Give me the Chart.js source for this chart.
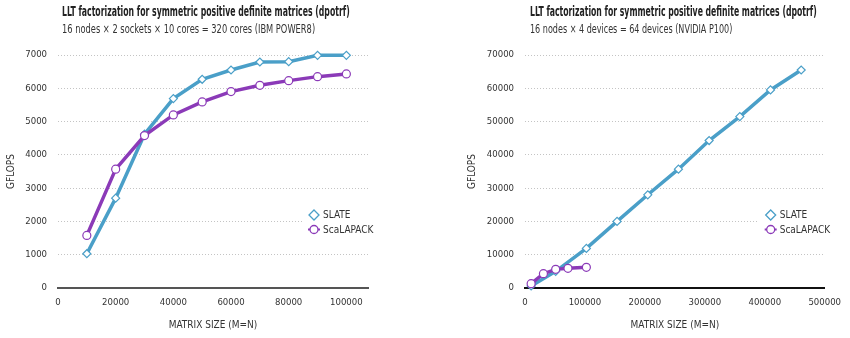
<!DOCTYPE html>
<html>
<head>
<meta charset="utf-8">
<script src="https://cdn.jsdelivr.net/npm/chart.js@4"></script>
<style>
  body { margin: 0; background: #fff; }
  #wrap { position: relative; width: 850px; height: 338px; overflow: hidden; }
  .box { position: absolute; top: 0; width: 425px; height: 338px; }
  canvas { position: absolute; left: 0; top: 0; }
  .ttl, .sub {
    position: absolute; white-space: nowrap; color: #222;
    font-family: "Liberation Sans Narrow", "DejaVu Sans Condensed", sans-serif;
    transform-origin: 0 0;
  }
  .ttl { font-weight: bold; font-size: 13.5px; top: 3px; }
  .sub { font-size: 12.5px; top: 21px; color: #333; }
</style>
</head>
<body>
<div id="wrap">
  <div class="box" style="left:0">
    <canvas id="c1" width="425" height="338"></canvas>
    <div class="ttl" data-w="288" style="left:62px">LLT factorization for symmetric positive definite matrices (dpotrf)</div>
    <div class="sub" data-w="253" style="left:62px">16 nodes × 2 sockets × 10 cores = 320 cores (IBM POWER8)</div>
  </div>
  <div class="box" style="left:425px">
    <canvas id="c2" width="425" height="338"></canvas>
    <div class="ttl" data-w="287" style="left:105px">LLT factorization for symmetric positive definite matrices (dpotrf)</div>
    <div class="sub" data-w="202" style="left:105px">16 nodes × 4 devices = 64 devices (NVIDIA P100)</div>
  </div>
</div>
<script>
// IBM POWER8 cluster
var sizesCpu = [10000, 20000, 30000, 40000, 50000, 60000, 70000, 80000, 90000, 100000];
var slateCpu = [1030, 2700, 4620, 5690, 6270, 6550, 6790, 6800, 6990, 6990];
var scalapackCpu = [1580, 3570, 4580, 5200, 5590, 5900, 6090, 6230, 6350, 6430];

// NVIDIA P100 cluster
var sizesGpuSlate = [10240, 51200, 102400, 153600, 204800, 256000, 307200, 358400, 409600, 460800];
var slateGpu = [600, 5000, 11900, 20000, 28000, 35700, 44300, 51500, 59500, 65500];
var sizesGpuScalapack = [10240, 30720, 51200, 71680, 102400];
var scalapackGpu = [1300, 4300, 5600, 5900, 6200];

var ticksCpuY = [0, 1000, 2000, 3000, 4000, 5000, 6000, 7000];
var ticksGpuY = [0, 10000, 20000, 30000, 40000, 50000, 60000, 70000];

var azul = '#4a9fc8';
var morado = '#8b3ab8';
var fuente = '"Liberation Sans Narrow", "DejaVu Sans Condensed", sans-serif';

Chart.defaults.font.family = fuente;
Chart.defaults.color = '#333';

// squeeze the titles to the condensed width of the original
document.querySelectorAll('.ttl, .sub').forEach(function (el) {
    var w = parseFloat(el.getAttribute('data-w'));
    el.style.transform = 'scaleX(' + (w / el.offsetWidth) + ')';
});

function puntos(xs, ys) {
    return xs.map(function (x, i) { return { x: x, y: ys[i] }; });
}

// legend drawn inside the plot, bottom right
var leyenda = {
    id: 'leyenda',
    afterDatasetsDraw: function (chart) {
        var ctx = chart.ctx;
        var a = chart.chartArea;
        ctx.save();
        ctx.fillStyle = '#fff';
        ctx.fillRect(a.right - 66, a.bottom - 84, 66, 34);
        ctx.font = '10px ' + fuente;
        ctx.textBaseline = 'middle';
        var filas = [
            { txt: 'SLATE', col: azul, y: a.bottom - 73, forma: 'diamante' },
            { txt: 'ScaLAPACK', col: morado, y: a.bottom - 58.5, forma: 'circulo' }
        ];
        filas.forEach(function (f) {
            var cx = a.right - 54;
            ctx.strokeStyle = f.col;
            ctx.lineWidth = 1.3;
            ctx.beginPath();
            if (f.forma === 'diamante') {
                ctx.moveTo(cx, f.y - 5);
                ctx.lineTo(cx + 5, f.y);
                ctx.lineTo(cx, f.y + 5);
                ctx.lineTo(cx - 5, f.y);
                ctx.closePath();
                ctx.stroke();
            } else {
                ctx.moveTo(cx - 6, f.y);
                ctx.lineTo(cx + 6, f.y);
                ctx.lineWidth = 2;
                ctx.stroke();
                ctx.beginPath();
                ctx.lineWidth = 1.3;
                ctx.fillStyle = '#fff';
                ctx.arc(cx, f.y, 4, 0, Math.PI * 2);
                ctx.fill();
                ctx.stroke();
            }
            ctx.fillStyle = '#333';
            ctx.fillText(f.txt, a.right - 45, f.y + 0.5);
        });
        ctx.restore();
    }
};

function grafico(id, slateXs, slateYs, scaXs, scaYs, xMax, xStep, yTicks, padLeft, yWidth, padRight, ejeColor) {
    var ctx = document.getElementById(id).getContext('2d');
    return new Chart(ctx, {
        type: 'line',
        data: {
            datasets: [{
                label: 'ScaLAPACK',
                data: puntos(scaXs, scaYs),
                borderColor: morado,
                backgroundColor: '#fff',
                borderWidth: 3.5,
                pointStyle: 'circle',
                pointRadius: 4,
                pointBorderWidth: 1.2,
                pointBackgroundColor: '#fff',
                pointBorderColor: morado,
                tension: 0
            }, {
                label: 'SLATE',
                data: puntos(slateXs, slateYs),
                borderColor: azul,
                backgroundColor: '#fff',
                borderWidth: 3.5,
                pointStyle: 'rectRot',
                pointRadius: 4,
                pointBorderWidth: 1.2,
                pointBackgroundColor: '#fff',
                pointBorderColor: azul,
                tension: 0
            }]
        },
        options: {
            responsive: false,
            animation: false,
            clip: false,
            layout: { padding: { top: 55, right: padRight, bottom: 0, left: padLeft } },
            plugins: {
                legend: { display: false },
                tooltip: { enabled: false }
            },
            scales: {
                x: {
                    type: 'linear',
                    min: 0,
                    max: xMax,
                    afterFit: function (s) { s.height = 50; },
                    afterBuildTicks: function (s) {
                        var t = [];
                        for (var v = 0; v <= xMax; v += xStep) t.push({ value: v });
                        s.ticks = t;
                    },
                    grid: { display: false, drawTicks: false },
                    border: { display: true, color: ejeColor, width: 2 },
                    ticks: {
                        padding: 9, font: { size: 9.5 }, color: '#333', maxRotation: 0, autoSkip: false,
                        callback: function (v) { return String(v); }
                    },
                    title: { display: true, text: 'MATRIX SIZE (M=N)', font: { size: 10 }, color: '#333', padding: { top: 6, bottom: 7 } }
                },
                y: {
                    min: 0,
                    max: yTicks[yTicks.length - 1],
                    afterFit: function (s) { s.width = yWidth; },
                    afterBuildTicks: function (s) {
                        s.ticks = yTicks.map(function (v) { return { value: v }; });
                    },
                    grid: { color: '#c4c4c4', lineWidth: 1, drawTicks: false },
                    border: { display: false, dash: [1, 2] },
                    ticks: {
                        padding: 11, font: { size: 9.5 }, color: '#333',
                        callback: function (v) { return String(v); }
                    },
                    title: { display: true, text: 'GFLOPS', font: { size: 10 }, color: '#333', padding: { top: 5, bottom: 0 } }
                }
            }
        },
        plugins: [leyenda]
    });
}

grafico('c1', sizesCpu, slateCpu, sizesCpu, scalapackCpu, 107500, 20000, ticksCpuY, 0, 58, 57, '#555');
grafico('c2', sizesGpuSlate, slateGpu, sizesGpuScalapack, scalapackGpu, 500000, 100000, ticksGpuY, 36, 64, 16, '#111');
</script>
</body>
</html>
